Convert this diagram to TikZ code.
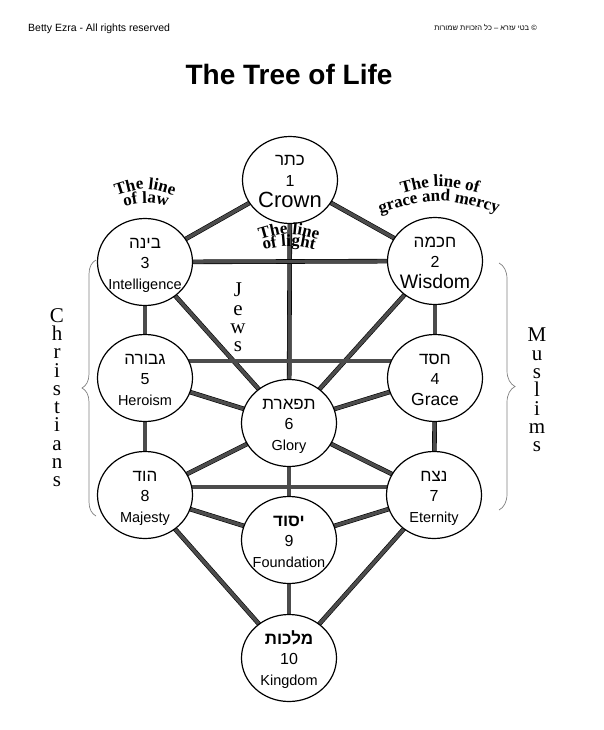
\documentclass[tikz,border=0pt]{standalone}
\usepackage{fontspec}
\setmainfont{Liberation Sans}
\newfontfamily\hebfont[Script=Hebrew]{Liberation Sans}
\newfontfamily\seriffont{Liberation Serif}
\TeXXeTstate=1
\usetikzlibrary{backgrounds,shapes.geometric,decorations.text,decorations.pathreplacing}
\newcommand{\archfont}{\seriffont\bfseries\fontsize{17}{17}\selectfont}

\begin{document}
\begin{tikzpicture}[x=1pt, y=-1pt]
	
	% styles for the circles, the paths and the labels
	\tikzset{
		sefira/.style={ellipse, draw=black, line width=1.2pt, fill=white, minimum width=95pt, minimum height=87pt, inner sep=0pt},
		path line/.style={draw=black, line width=0.6pt, double=black!70, double distance=3.4pt},
		heb label/.style={anchor=base, inner sep=0pt, font=\hebfont\fontsize{17}{17}\selectfont},
		num label/.style={anchor=base, inner sep=0pt, font=\fontsize{16}{16}\selectfont},
		eng label/.style={anchor=base, inner sep=0pt},
		arch text/.style={decorate, decoration={text along path, text align=center, text={|\archfont|#1}}},
		vert word/.style={anchor=north, align=center, inner sep=0pt, font=\seriffont\fontsize{21}{18.3}\selectfont},
		brace line/.style={draw=black!50, line width=0.7pt, decorate, decoration={brace, amplitude=#1}}
	}
	
	\useasboundingbox (0,0) rectangle (603,730);
	
	% one circle: name, x, y, hebrew, number, english, english size
	\def\sefira#1#2#3#4#5#6#7{
		\node[sefira] (#1) at (#2,#3) {};
		\node[heb label] (#1-heb) at ([yshift=14pt]#1.center) {\beginR #4\endR};
		\node[num label] (#1-num) at ([yshift=-6.5pt]#1.center) {#5};
		\node[eng label, font=\fontsize{#7}{#7}\selectfont] (#1-eng) at ([yshift=-27pt]#1.center) {#6};
	}
	
	% header and title
	\node[anchor=base west, inner sep=0pt, font=\fontsize{10.5}{12}\selectfont] (rights) at (28,32) {Betty Ezra - All rights reserved};
	\node[anchor=base east, inner sep=0pt, font=\hebfont\fontsize{7.5}{9}\selectfont] (rights-heb) at (537,31) {\beginR © בטי עזרא – כל הזכויות שמורות\endR};
	\node[anchor=base, inner sep=0pt, font=\bfseries\fontsize{28}{30}\selectfont] (title) at (289,85) {The Tree of Life};
	
	% the ten circles
	\sefira{keter}{290}{180}{כתר}{1}{Crown}{22}
	\sefira{chokhmah}{435}{261}{חכמה}{2}{Wisdom}{19.5}
	\sefira{binah}{145}{262}{בינה}{3}{Intelligence}{14.5}
	\sefira{chesed}{435}{378}{חסד}{4}{Grace}{17.5}
	\sefira{gevurah}{145}{378}{גבורה}{5}{Heroism}{14.5}
	\sefira{tiferet}{289}{423}{תפארת}{6}{Glory}{14.5}
	\sefira{netzach}{434}{495}{נצח}{7}{Eternity}{14.5}
	\sefira{hod}{145}{495}{הוד}{8}{Majesty}{14.5}
	\sefira{yesod}{289}{540}{\bfseries יסוד}{9}{Foundation}{14.5}
	\sefira{malkhut}{289}{658}{\bfseries מלכות}{10}{Kingdom}{14.5}
	
	% the paths behind the circles
	\begin{pgfonlayer}{background}
		\foreach \a/\b in {keter/chokhmah, keter/binah, keter/tiferet, binah/chokhmah,
			binah/gevurah, chokhmah/chesed, binah/tiferet, chokhmah/tiferet,
			gevurah/tiferet, chesed/tiferet, gevurah/hod, chesed/netzach,
			hod/tiferet, netzach/tiferet, tiferet/yesod, hod/yesod, netzach/yesod,
			yesod/malkhut, hod/malkhut, netzach/malkhut}
		\draw[path line] (\a.center) -- (\b.center);
		% the two horizontal paths sit above the centres
		\draw[path line] ([yshift=17pt]gevurah.center) -- ([yshift=17pt]chesed.center);
		\draw[path line] ([yshift=8pt]hod.center) -- ([yshift=8pt]netzach.center);
	\end{pgfonlayer}
	
	% arched labels
	\path[arch text={The line}] (106,199) .. controls (145,186) .. (184,199);
	\path[arch text={of law}] (114,209) .. controls (146,201) .. (178,209);
	\path[arch text={The line of}] (391,196) .. controls (440,183) .. (489,196);
	\path[arch text={grace and mercy}] (370,216) .. controls (439,196) .. (508,216);
	\path[arch text={The line}] (249,243) .. controls (289,231) .. (329,243);
	\path[arch text={of light}] (254,252) .. controls (289,244) .. (324,252);
	
	% vertical words
	\node[vert word] (jews) at (238,283) {J\\e\\w\\s};
	\node[vert word] (christians) at (57,308) {C\\h\\r\\i\\s\\t\\i\\a\\n\\s};
	\node[vert word] (muslims) at (537,328) {M\\u\\s\\l\\i\\m\\s};
	
	% braces
	\draw[brace line=14pt] (96,516) -- (96,260);
	\draw[brace line=16pt] (499,263) -- (499,510);
	
\end{tikzpicture}
\end{document}
